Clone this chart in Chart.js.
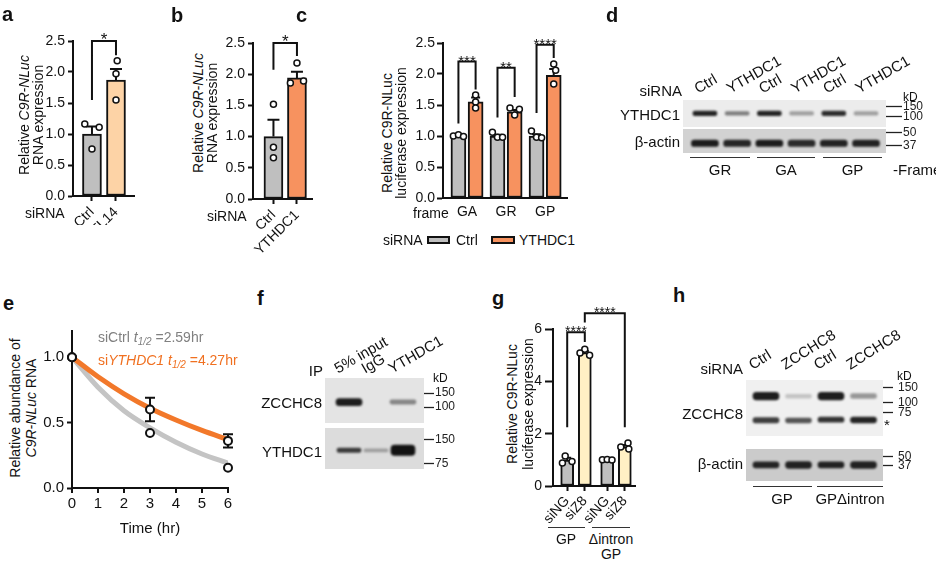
<!DOCTYPE html>
<html>
<head>
<meta charset="utf-8">
<script src="https://cdn.jsdelivr.net/npm/chart.js@4.4.1/dist/chart.umd.min.js"></script>
<style>
  body { margin: 0; width: 936px; height: 563px; position: relative; overflow: hidden; background: #fff;
         font-family: "Liberation Sans", Arial, sans-serif; color: #111; }
  canvas { position: absolute; }
  .t { position: absolute; white-space: nowrap; line-height: 1; }
  .ln { position: absolute; height: 0; border-top: 1.3px solid #333; }
  .sw { position: absolute; box-sizing: border-box; border: 2px solid #111; }
  sub { font-size: 10px; vertical-align: -3px; line-height: 0; }
</style>
</head>
<body>
<script>
// ---- a: METTL14 knockdown ----
const aLabels = ["Ctrl", "METTL14"];
const aMean = [1.0, 1.87];
const aSem = [0.12, 0.18];
const aDots = [[1.16, 1.11, 0.76], [2.18, 1.97, 1.55]];
const aSig = [{ from: 0, to: 1, top: 2.5, left: 1.55, right: 2.27, text: "*" }];

// ---- b: YTHDC1 knockdown ----
const bLabels = ["Ctrl", "YTHDC1"];
const bMean = [1.0, 1.94];
const bSem = [0.27, 0.1];
const bDots = [[1.52, 0.83, 0.66], [2.18, 1.86, 1.89]];
const bSig = [{ from: 0, to: 1, top: 2.5, left: 2.07, right: 2.29, text: "*" }];

// ---- c: luciferase per frame ----
const cFrames = ["GA", "GR", "GP"];
const cCtrlMean = [1.0, 1.0, 1.0];
const cCtrlSem = [0.01, 0.02, 0.03];
const cYthMean = [1.55, 1.39, 1.98];
const cYthSem = [0.07, 0.03, 0.1];
const cCtrlDots = [[1.0, 1.02, 0.99], [1.06, 0.98, 0.98], [1.08, 0.98, 0.97]];
const cYthDots = [[1.66, 1.55, 1.45], [1.45, 1.43, 1.34], [2.16, 2.06, 1.84]];
const cSig = [
  { from: 0, to: 1, top: 2.2, left: 1.2, right: 1.75, text: "***" },
  { from: 2, to: 3, top: 2.1, left: 1.3, right: 1.63, text: "**" },
  { from: 4, to: 5, top: 2.47, left: 1.37, right: 2.26, text: "****" }
];

// ---- e: decay ----
const eHours = [0, 1, 2, 3, 4, 5, 6];
const eCtrlFit = [1.0, 0.77, 0.59, 0.46, 0.35, 0.26, 0.19];
const eYthFit = [1.0, 0.85, 0.72, 0.61, 0.52, 0.44, 0.37];
const eSampled = [0, 3, 6];
const eCtrlObs = [1.0, 0.42, 0.155];
const eYthObs = [1.0, 0.6, 0.36];
const eYthSem = [0, 0.09, 0.05];
const eHalfLife = ["2.59hr", "4.27hr"];

// ---- g: ZCCHC8 knockdown ----
const gLabels = ["siNG", "siZ8", "siNG", "siZ8"];
const gMean = [0.99, 5.1, 1.0, 1.5];
const gSem = [0.09, 0.06, 0.01, 0.07];
const gDots = [[1.15, 0.88, 0.94], [5.23, 5.08, 5.0], [1.0, 1.01, 0.99], [1.64, 1.49, 1.41]];
const gSig = [
  { from: 0, to: 1, top: 5.88, left: 2.25, right: 5.5, text: "****" },
  { from: 1, to: 3, top: 6.6, left: 6.25, right: 2.25, text: "****" }
];

// ---- blots (bands as kD ranges, ink 0..1) ----
const dLanes = ["Ctrl", "YTHDC1", "Ctrl", "YTHDC1", "Ctrl", "YTHDC1"];
const dFrames = ["GR", "GA", "GP"];
const dYthBand = [[106, 127], [108, 124], [106, 127], [108, 124], [106, 127], [108, 124]];
const dYthInk = [0.92, 0.5, 0.92, 0.35, 0.88, 0.35];
const dActBand = [[36, 42], [36, 42], [36, 42], [36, 42], [36, 42], [36, 42]];
const dActInk = [0.95, 0.9, 0.95, 0.88, 0.92, 0.92];

const fLanes = ["5% input", "IgG", "YTHDC1"];
const fZcBand = [[104, 128], null, [109, 123]];
const fZcInk = [0.95, 0, 0.45];
const fYthBand = [[103, 117], [104, 114], [94, 127]];
const fYthInk = [0.8, 0.3, 1.0];

const hLanes = ["Ctrl", "ZCCHC8", "Ctrl", "ZCCHC8"];
const hGroups = ["GP", "GPΔintron"];
const hZcBand = [[108, 133], [113, 126], [108, 133], [112, 128]];
const hZcInk = [0.95, 0.2, 0.95, 0.4];
const hStarBand = [[57, 66], [57, 65], [58, 67], [57, 67]];
const hStarInk = [0.8, 0.7, 0.85, 0.92];
const hActBand = [[34.5, 42], [34, 42.5], [34.5, 42], [34, 42.5]];
const hActInk = [0.9, 0.92, 0.92, 0.92];

const GRAY = "#bfbfbf", PEACH = "#fdd3a6", ORANGE = "#f7925f", CREAM = "#fff0c4";
const FONT = "'Liberation Sans', Arial, sans-serif";

Chart.defaults.font.family = FONT;
Chart.defaults.font.size = 14;
Chart.defaults.color = "#111";
Chart.defaults.animation = false;
Chart.defaults.events = [];
Chart.defaults.plugins.legend.display = false;
Chart.defaults.plugins.tooltip.enabled = false;

// canvas at [left, top, right, bottom] of the page
function place(box) {
  const c = document.createElement("canvas");
  c.width = box[2] - box[0];
  c.height = box[3] - box[1];
  c.style.left = box[0] + "px";
  c.style.top = box[1] + "px";
  c.style.width = c.width + "px";
  c.style.height = c.height + "px";
  document.body.appendChild(c);
  return c;
}
// gaps between canvas edge and the wanted chart area
function gaps(box, area) {
  return { left: area[0] - box[0], top: area[1] - box[1], right: box[2] - area[2], bottom: box[3] - area[3] };
}
// an axis that fills exactly the gap on its side
const fitTo = (n) => (s) => {
  if (s.isHorizontal()) s.height = n; else s.width = n;
  s.paddingLeft = s.paddingRight = s.paddingTop = s.paddingBottom = 0;
};

function put(html, x, y, opt = {}) {
  const el = document.createElement("div");
  el.className = "t";
  el.innerHTML = html;
  el.style.left = x + "px";
  el.style.top = y + "px";
  el.style.fontSize = (opt.size || 14) + "px";
  if (opt.bold) el.style.fontWeight = "bold";
  if (opt.color) el.style.color = opt.color;
  const ax = opt.align === "left" ? "0" : opt.align === "right" ? "-100%" : "-50%";
  el.style.transform = `translate(${ax}, -50%)` + (opt.rot ? ` rotate(${opt.rot}deg)` : "");
  document.body.appendChild(el);
}
function hline(x1, x2, y) {
  const el = document.createElement("div");
  el.className = "ln";
  el.style.left = x1 + "px";
  el.style.top = y + "px";
  el.style.width = (x2 - x1) + "px";
  document.body.appendChild(el);
}
function swatch(x, y, w, h, color) {
  const el = document.createElement("div");
  el.className = "sw";
  Object.assign(el.style, { left: x + "px", top: y + "px", width: w + "px", height: h + "px", background: color });
  document.body.appendChild(el);
}

// error bars (up only) and significance brackets
function marks(o) {
  return {
    id: "marks",
    afterDatasetDraw(chart, args) {
      if (args.index !== 0) return;
      const { ctx, scales: { x, y } } = chart;
      ctx.save();
      ctx.strokeStyle = "#111";
      ctx.lineWidth = 2;
      o.xs.forEach((xv, i) => {
        const px = x.getPixelForValue(xv);
        const top = y.getPixelForValue(o.means[i] + o.sems[i]);
        ctx.beginPath();
        ctx.moveTo(px, y.getPixelForValue(o.means[i]));
        ctx.lineTo(px, top);
        ctx.moveTo(px - o.cap, top);
        ctx.lineTo(px + o.cap, top);
        ctx.stroke();
      });
      ctx.restore();
    },
    afterDraw(chart) {
      const { ctx, scales: { x, y } } = chart;
      ctx.save();
      ctx.strokeStyle = "#111";
      ctx.fillStyle = "#111";
      ctx.lineWidth = 2;
      ctx.font = o.starSize + "px " + FONT;
      ctx.textAlign = "center";
      o.sig.forEach((s) => {
        const x1 = x.getPixelForValue(o.xs[s.from]);
        const x2 = x.getPixelForValue(o.xs[s.to]);
        const yt = y.getPixelForValue(s.top);
        ctx.beginPath();
        ctx.moveTo(x1, y.getPixelForValue(s.left));
        ctx.lineTo(x1, yt);
        ctx.lineTo(x2, yt);
        ctx.lineTo(x2, y.getPixelForValue(s.right));
        ctx.stroke();
        ctx.fillText(s.text, (x1 + x2) / 2, yt + 4);
      });
      ctx.restore();
    }
  };
}

function barPanel(o) {
  const g = gaps(o.box, o.area);
  const dots = [];
  o.dots.forEach((grp, i) => grp.forEach((v, j) => dots.push({ x: o.xs[i] + o.jit[i][j], y: v })));
  const axisLine = { color: "#111", width: 2 };
  new Chart(place(o.box), {
    type: "bar",
    data: {
      datasets: [
        {
          order: 2,
          data: o.xs.map((x, i) => ({ x, y: o.means[i] })),
          backgroundColor: o.colors,
          borderColor: "#111",
          borderWidth: 2,
          borderSkipped: false,
          barThickness: o.thick,
          grouped: false
        },
        {
          type: "scatter",
          order: 1,
          data: dots,
          pointRadius: 3,
          pointBorderWidth: 1.5,
          pointBackgroundColor: "#fff",
          pointBorderColor: "#111"
        }
      ]
    },
    options: {
      responsive: false,
      layout: { padding: { left: 0, bottom: 0, top: g.top, right: g.right } },
      scales: {
        x: {
          type: "linear", offset: false, min: o.xMin, max: o.xMax, afterFit: fitTo(g.bottom),
          afterBuildTicks: (s) => { s.ticks = o.tickXs.map((value) => ({ value })); },
          grid: { offset: false, drawOnChartArea: false, drawTicks: o.xTickLen > 0, tickLength: o.xTickLen, tickWidth: 2, tickColor: "#111" },
          border: axisLine,
          ticks: { autoSkip: false, minRotation: o.rot, maxRotation: o.rot, padding: o.xPad, color: "#111",
                   callback: (v, i) => o.tickLabels[i] }
        },
        y: {
          min: 0, max: o.yMax, afterFit: fitTo(g.left),
          afterBuildTicks: (s) => { s.ticks = o.yTicks.map((value) => ({ value })); },
          grid: { drawOnChartArea: false, tickLength: o.yTickLen, tickWidth: 2, tickColor: "#111" },
          border: axisLine,
          ticks: { autoSkip: false, padding: o.yPad, color: "#111", callback: o.yFmt }
        }
      }
    },
    plugins: [marks(o)]
  });
}

const oneDec = (v) => v.toFixed(1);

// panel a
barPanel({
  box: [0, 20, 150, 225], area: [73, 41, 134, 196],
  xMin: -0.79, xMax: 1.75, xs: [0, 1], means: aMean, sems: aSem, dots: aDots,
  jit: [[-0.3, 0.3, 0], [0.05, 0, 0]], colors: [GRAY, PEACH], thick: 19, cap: 6,
  yMax: 2.5, yTicks: [0, 0.5, 1, 1.5, 2, 2.5], yFmt: oneDec, yTickLen: 5, yPad: 3,
  tickXs: [0, 1], tickLabels: aLabels, rot: 45, xTickLen: 5, xPad: 3,
  sig: aSig, starSize: 17
});

// panel b
barPanel({
  box: [215, 20, 330, 255], area: [253, 43, 312, 199],
  xMin: -0.87, xMax: 1.64, xs: [0, 1], means: bMean, sems: bSem, dots: bDots,
  jit: [[0, 0, 0], [0, -0.28, 0.28]], colors: [GRAY, ORANGE], thick: 19, cap: 6,
  yMax: 2.5, yTicks: [0, 0.5, 1, 1.5, 2, 2.5], yFmt: oneDec, yTickLen: 5, yPad: 3,
  tickXs: [0, 1], tickLabels: bLabels, rot: 45, xTickLen: 5, xPad: 3,
  sig: bSig, starSize: 17
});

// panel c: bars interleaved ctrl / YTHDC1 per frame
const cXs = [], cMeans = [], cSems = [], cDots = [], cCols = [];
cFrames.forEach((f, i) => {
  cXs.push(i - 0.22, i + 0.22);
  cMeans.push(cCtrlMean[i], cYthMean[i]);
  cSems.push(cCtrlSem[i], cYthSem[i]);
  cDots.push(cCtrlDots[i], cYthDots[i]);
  cCols.push(GRAY, ORANGE);
});
barPanel({
  box: [405, 20, 590, 225], area: [443, 43, 567, 198],
  xMin: -0.615, xMax: 2.56, xs: cXs, means: cMeans, sems: cSems, dots: cDots,
  jit: [[-0.13, 0, 0.13], [0, 0, 0], [-0.13, 0, 0.13], [-0.12, 0.12, 0], [-0.13, 0, 0.13], [0, 0.05, 0]],
  colors: cCols, thick: 15, cap: 4.5,
  yMax: 2.5, yTicks: [0, 0.5, 1, 1.5, 2, 2.5], yFmt: oneDec, yTickLen: 6, yPad: 2,
  tickXs: [0, 1, 2], tickLabels: cFrames, rot: 0, xTickLen: 0, xPad: 6,
  sig: cSig, starSize: 15
});

// panel g
const gXs = gLabels.map((_, i) => (i >> 1) + (i % 2 ? 0.22 : -0.22));
barPanel({
  box: [530, 295, 650, 525], area: [553, 329, 635, 486],
  xMin: -0.575, xMax: 1.475, xs: gXs, means: gMean, sems: gSem, dots: gDots,
  jit: [[-0.05, -0.12, 0.12], [0, -0.12, 0.12], [-0.12, 0, 0.12], [0.08, -0.1, 0.1]],
  colors: [GRAY, CREAM, GRAY, CREAM], thick: 13, cap: 4,
  yMax: 6, yTicks: [0, 2, 4, 6], yFmt: (v) => String(v), yTickLen: 8, yPad: 3,
  tickXs: gXs, tickLabels: gLabels, rot: 48, xTickLen: 5, xPad: 2,
  sig: gSig, starSize: 14
});

// panel e
const eBox = [40, 320, 245, 515];
const eGap = gaps(eBox, [72, 331, 228, 488]);
const eDot = { type: "scatter", order: 0, clip: false, pointRadius: 4, pointBorderWidth: 2,
               pointBackgroundColor: "#fff", pointBorderColor: "#111" };
let eLabelsPlaced = false;
new Chart(place(eBox), {
  type: "line",
  data: {
    datasets: [
      { ...eDot, data: eSampled.map((t, i) => ({ x: t, y: eCtrlObs[i] })) },
      { ...eDot, data: eSampled.map((t, i) => ({ x: t, y: eYthObs[i] })) },
      { order: 1, data: eHours.map((t, i) => ({ x: t, y: eYthFit[i] })), borderColor: "#f2782a",
        borderWidth: 5, pointRadius: 0, cubicInterpolationMode: "monotone" },
      { order: 2, data: eHours.map((t, i) => ({ x: t, y: eCtrlFit[i] })), borderColor: "#c4c4c4",
        borderWidth: 5, pointRadius: 0, cubicInterpolationMode: "monotone" }
    ]
  },
  options: {
    responsive: false,
    layout: { padding: { left: 0, bottom: 0, top: eGap.top, right: eGap.right } },
    scales: {
      x: {
        type: "linear", min: 0, max: 6, afterFit: fitTo(eGap.bottom),
        // hour ticks are painted by the plugin, hour labels placed from the scale
        ticks: { display: false },
        grid: { display: false },
        border: { color: "#111", width: 2 }
      },
      y: {
        min: 0, max: 1.2, afterFit: fitTo(eGap.left),
        afterBuildTicks: (s) => { s.ticks = [0, 0.5, 1].map((value) => ({ value })); },
        ticks: { autoSkip: false, padding: 3, color: "#111", callback: oneDec, font: { size: 15 } },
        grid: { drawOnChartArea: false, tickLength: 5, tickWidth: 2, tickColor: "#111" },
        border: { color: "#111", width: 2 }
      }
    }
  },
  plugins: [{
    id: "ebars",
    afterDatasetDraw(chart, args) {
      if (args.index !== 2) return;
      const { ctx, scales: { x, y } } = chart;
      ctx.save();
      ctx.strokeStyle = "#111";
      ctx.lineWidth = 2;
      eSampled.forEach((t, i) => {
        if (!eYthSem[i]) return;
        const px = x.getPixelForValue(t);
        const hi = y.getPixelForValue(eYthObs[i] + eYthSem[i]);
        const lo = y.getPixelForValue(eYthObs[i] - eYthSem[i]);
        ctx.beginPath();
        ctx.moveTo(px, hi); ctx.lineTo(px, lo);
        ctx.moveTo(px - 5, hi); ctx.lineTo(px + 5, hi);
        ctx.moveTo(px - 5, lo); ctx.lineTo(px + 5, lo);
        ctx.stroke();
      });
      ctx.restore();
    },
    afterDraw(chart) {
      const { ctx, scales: { x } } = chart;
      ctx.save();
      ctx.strokeStyle = "#111";
      ctx.lineWidth = 2;
      eHours.forEach((h) => {
        const px = x.getPixelForValue(h);
        ctx.beginPath();
        ctx.moveTo(px, x.top);
        ctx.lineTo(px, x.top + 5);
        ctx.stroke();
      });
      ctx.restore();
      if (eLabelsPlaced) return;
      eLabelsPlaced = true;
      eHours.forEach((h) => put(String(h), eBox[0] + x.getPixelForValue(h), eBox[1] + x.top + 14, { size: 15 }));
    }
  }]
});

// western blot strip: bands are floating bars on a log kD axis
function blotRow(o) {
  const g = gaps(o.box, o.area);
  const datasets = o.bands.map((b) => {
    const idx = b.kd.map((_, i) => i).filter((i) => b.kd[i]);
    return {
      type: "bar",
      data: idx.map((i) => ({ x: i, y: b.kd[i] })),
      backgroundColor: idx.map((i) => `rgba(18,18,18,${b.ink[i]})`),
      barThickness: b.thick,
      borderRadius: 4,
      borderSkipped: false,
      borderWidth: 0,
      grouped: false
    };
  });
  new Chart(place(o.box), {
    type: "bar",
    data: { datasets },
    options: {
      responsive: false,
      layout: { padding: { left: g.left, bottom: g.bottom, right: 0, top: o.showLanes ? 0 : g.top } },
      scales: {
        x: {
          type: "linear", offset: false, position: "top", display: !!o.showLanes,
          min: o.xMin, max: o.xMax, afterFit: fitTo(g.top),
          afterBuildTicks: (s) => { s.ticks = o.lanes.map((_, value) => ({ value })); },
          grid: { display: false, drawTicks: false },
          border: { display: false },
          ticks: { autoSkip: false, minRotation: o.rot || 0, maxRotation: o.rot || 0, padding: o.lanePad || 0,
                   labelOffset: o.labelOffset || 0, color: "#111", font: { size: 15 },
                   callback: (v, i) => o.lanes[i] }
        },
        y: {
          type: "logarithmic", position: "right", min: o.kdMin, max: o.kdMax, afterFit: fitTo(g.right),
          afterBuildTicks: (s) => { s.ticks = o.kdTicks.map((value) => ({ value })); },
          grid: { drawOnChartArea: false, tickLength: o.tickLen, tickWidth: 1.3, tickColor: "#222" },
          border: { display: false },
          ticks: { autoSkip: false, padding: o.tickPad, color: "#222", font: { size: 12 }, callback: (v) => String(v) }
        }
      }
    },
    plugins: [{
      id: "gel",
      beforeDatasetsDraw(chart) {
        const { ctx, chartArea: a } = chart;
        ctx.fillStyle = o.bg;
        ctx.fillRect(a.left, a.top, a.width, a.height);
        ctx.save();
        ctx.filter = "blur(1.2px)";
      },
      afterDatasetsDraw(chart) { chart.ctx.restore(); }
    }]
  });
}

// panel d
blotRow({ box: [660, 40, 936, 127], area: [683, 100, 886, 127], lanes: dLanes, showLanes: true, rot: 30, lanePad: 2,
          xMin: -0.68, xMax: 5.62, kdMin: 66.7, kdMax: 199, kdTicks: [150, 100], tickLen: 16, tickPad: 1, bg: "#ececec",
          bands: [{ kd: dYthBand, ink: dYthInk, thick: 24 }] });
blotRow({ box: [660, 127, 936, 160], area: [683, 128, 886, 153], lanes: dLanes,
          xMin: -0.68, xMax: 5.62, kdMin: 30.8, kdMax: 54.9, kdTicks: [50, 37], tickLen: 16, tickPad: 1, bg: "#d2d2d2",
          bands: [{ kd: dActBand, ink: dActInk, thick: 27 }] });

// panel f
blotRow({ box: [300, 315, 470, 424], area: [325, 378, 424, 423], lanes: fLanes, showLanes: true, rot: 30, lanePad: 0,
          labelOffset: -4, xMin: -0.89, xMax: 2.78, kdMin: 63, kdMax: 232, kdTicks: [150, 100], tickLen: 10, tickPad: 1,
          bg: "#e4e4e4", bands: [{ kd: fZcBand, ink: fZcInk, thick: 26 }] });
blotRow({ box: [300, 424, 470, 476], area: [325, 426, 424, 469], lanes: fLanes,
          xMin: -0.89, xMax: 2.78, kdMin: 63.5, kdMax: 209, kdTicks: [150, 75], tickLen: 10, tickPad: 1,
          bg: "#dcdcdc", bands: [{ kd: fYthBand, ink: fYthInk, thick: 24 }] });

// panel h
blotRow({ box: [740, 315, 936, 437], area: [746, 380, 883, 436], lanes: hLanes, showLanes: true, rot: 32, lanePad: 6,
          labelOffset: -6, xMin: -0.615, xMax: 3.6, kdMin: 39.6, kdMax: 187, kdTicks: [150, 100, 75], tickLen: 10, tickPad: 5,
          bg: "#f0f0f0", bands: [{ kd: hZcBand, ink: hZcInk, thick: 26 }, { kd: hStarBand, ink: hStarInk, thick: 26 }] });
blotRow({ box: [740, 437, 936, 490], area: [746, 443, 883, 481], lanes: hLanes,
          xMin: -0.615, xMax: 3.6, kdMin: 22.6, kdMax: 64, kdTicks: [50, 37], tickLen: 10, tickPad: 5,
          bg: "#cbcbcb", bands: [{ kd: hActBand, ink: hActInk, thick: 26 }] });

// ---- text ----
const L = { size: 20, bold: true, align: "left" };
put("a", 2, 14, L); put("b", 171, 15, L); put("c", 296, 15, L); put("d", 606, 15, L);
put("e", 3, 303, L); put("f", 257, 298, L); put("g", 492, 298, L); put("h", 673, 295, L);

put("Relative <i>C9R-NLuc</i>", 24, 115, { rot: -90 });
put("RNA expression", 38, 115, { rot: -90 });
put("siRNA", 25, 213, { align: "left" });

put("Relative <i>C9R-NLuc</i>", 198, 113, { rot: -90 });
put("RNA expression", 212, 113, { rot: -90 });
put("siRNA", 207, 216, { align: "left" });

put("Relative C9R-NLuc", 387, 133, { rot: -90 });
put("luciferase expression", 401, 133, { rot: -90 });
put("frame", 413, 213, { align: "left" });
put("siRNA", 383, 240, { align: "left" });
swatch(427, 236, 23, 8, GRAY);
put("Ctrl", 456, 240, { align: "left" });
swatch(491, 236, 24, 8, ORANGE);
put("YTHDC1", 519, 240, { align: "left" });

put("siRNA", 682, 90, { align: "right", size: 15 });
put("YTHDC1", 680, 114, { align: "right", size: 15 });
put("β-actin", 680, 141, { align: "right", size: 15 });
put("kD", 903, 97, { align: "left", size: 12 });
[[690, 750], [757, 815], [823, 882]].forEach((p, i) => {
  hline(p[0], p[1], 157);
  put(dFrames[i], (p[0] + p[1]) / 2, 169, { size: 15 });
});
put("-Frame", 893, 169, { align: "left", size: 15 });

put("Relative abundance of", 15, 408, { rot: -90 });
put("<i>C9R-NLuc</i> RNA", 31, 408, { rot: -90 });
put("Time (hr)", 150, 527, { size: 15 });
put(`siCtrl <i>t<sub>1/2</sub></i> =${eHalfLife[0]}`, 98, 337, { align: "left", color: "#808080" });
put(`si<i>YTHDC1</i> <i>t<sub>1/2</sub></i> =${eHalfLife[1]}`, 98, 360, { align: "left", color: "#f07020" });

put("IP", 323, 370, { align: "right", size: 15 });
put("ZCCHC8", 322, 402, { align: "right", size: 15 });
put("YTHDC1", 322, 451, { align: "right", size: 15 });
put("kD", 433, 378, { align: "left", size: 12 });

put("Relative C9R-NLuc", 512, 404, { rot: -90 });
put("luciferase expression", 528, 404, { rot: -90 });
hline(548, 585, 527);
hline(592, 630, 527);
put("GP", 566, 539);
put("Δintron", 611, 539);
put("GP", 611, 554);

put("siRNA", 743, 368, { align: "right", size: 15 });
put("ZCCHC8", 743, 413, { align: "right", size: 15 });
put("β-actin", 743, 463, { align: "right", size: 15 });
put("kD", 897, 376, { align: "left", size: 12 });
put("*", 884, 424, { align: "left", size: 15 });
hline(753, 812, 486);
hline(817, 883, 486);
put(hGroups[0], 782, 498, { size: 15 });
put(hGroups[1], 850, 498, { size: 15 });
</script>
</body>
</html>
